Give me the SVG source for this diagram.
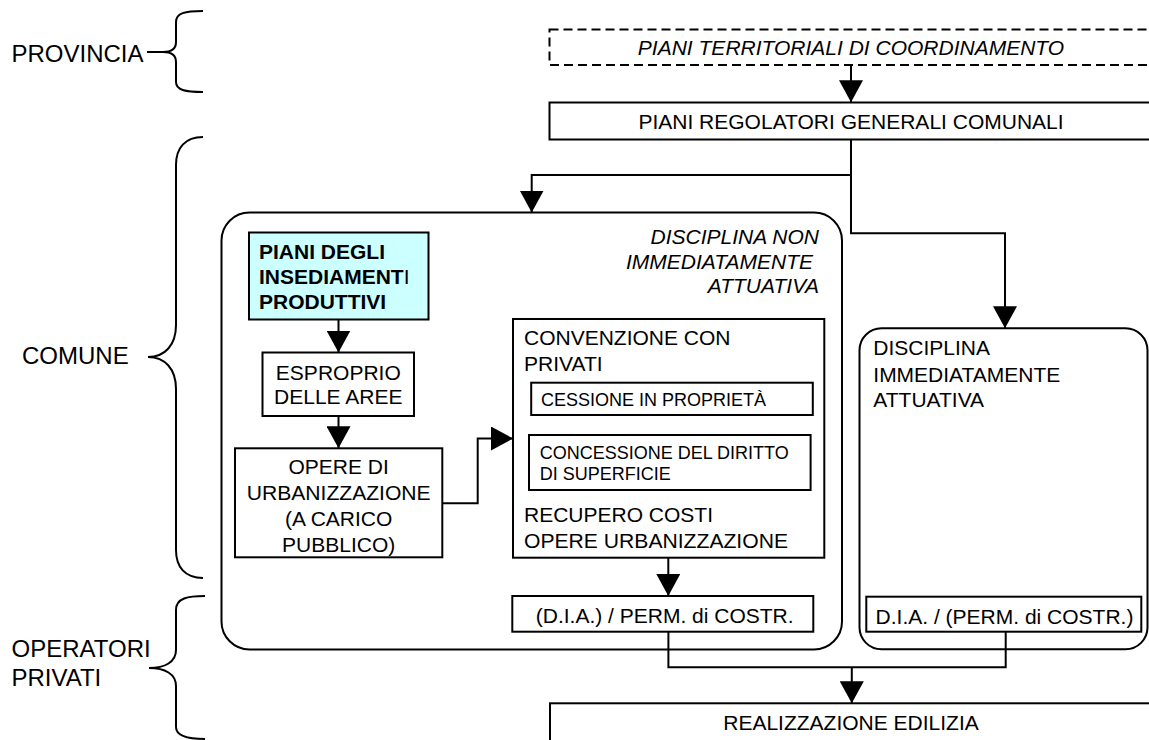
<svg xmlns="http://www.w3.org/2000/svg" width="1149" height="740" viewBox="0 0 1149 740">
<defs>
<style>
.box{fill:#fff;stroke:#000;stroke-width:2}
.dash{fill:#fff;stroke:#000;stroke-width:2;stroke-dasharray:9 5}
.ln{fill:none;stroke:#000;stroke-width:2}
.br{fill:none;stroke:#000;stroke-width:2}
text{font-family:"Liberation Sans",Arial,sans-serif;fill:#000}
.t{font-size:21px}
.s{font-size:18px}
.l{font-size:24px}
.i{font-style:italic}
.b{font-weight:bold}
.m{text-anchor:middle}
.r{text-anchor:end}
</style>
<marker id="ah" markerUnits="userSpaceOnUse" markerWidth="23" markerHeight="24" refX="22" refY="12" orient="auto">
<path d="M0,0 L22,12 L0,24 z" fill="#000"/>
</marker>
</defs>

<g id="labels">
<text class="l" x="11.5" y="61.5">PROVINCIA</text>
<text class="l" x="22" y="364">COMUNE</text>
<text class="l" x="11.5" y="656.5">OPERATORI</text>
<text class="l" x="11.5" y="686">PRIVATI</text>
<path class="br" d="M147,52 L163,52"/>
<path class="br" d="M203,11 C185,11 176,13 176,22 L176,42 C176,48 172,52 163,52 C172,52 176,56 176,62 L176,82 C176,90 185,92 203,92"/>
<path class="br" d="M203,137 C185,137 176,148 176,165 L176,325 C176,345 165,357 148,357 C165,357 176,369 176,389 L176,550 C176,567 185,578 203,578"/>
<path class="br" d="M205,596 C188,596 176,598 176,610 L176,650 C176,662 165,668 149,668 C165,668 176,674 176,686 L176,727 C176,736 188,739 205,739"/>
</g>

<g id="ptc">
<rect class="dash" x="549.5" y="29.5" width="603" height="35.5"/>
<text class="t i m" x="851" y="55">PIANI TERRITORIALI DI COORDINAMENTO</text>
</g>

<g id="prg">
<rect class="box" x="549.5" y="102.5" width="603" height="37"/>
<text class="t m" x="851" y="129">PIANI REGOLATORI GENERALI COMUNALI</text>
</g>

<g id="non-immediata">
<rect class="box" x="221.5" y="212.5" width="620.5" height="437" rx="28" ry="28"/>
<text class="t i r" x="819" y="244">DISCIPLINA NON</text>
<text class="t i r" x="813" y="268.5">IMMEDIATAMENTE</text>
<text class="t i r" x="819" y="293">ATTUATIVA</text>
</g>

<g id="pip">
<rect x="249" y="232.5" width="179.5" height="87" fill="#CCFFFF" stroke="#000" stroke-width="2"/>
<text class="t b" x="259" y="259">PIANI DEGLI</text>
<text class="t b" x="259" y="284">INSEDIAMENT<tspan font-weight="normal">I</tspan></text>
<text class="t b" x="259" y="309">PRODUTTIVI</text>
</g>

<g id="esproprio">
<rect class="box" x="262.5" y="352.5" width="151.5" height="63.5"/>
<text class="t m" x="338.3" y="380">ESPROPRIO</text>
<text class="t m" x="338.3" y="403.5">DELLE AREE</text>
</g>

<g id="opere">
<rect class="box" x="235" y="448.3" width="207.3" height="109"/>
<text class="t m" x="338.7" y="474">OPERE DI</text>
<text class="t m" x="338.7" y="500" textLength="184" lengthAdjust="spacingAndGlyphs">URBANIZZAZIONE</text>
<text class="t m" x="338.7" y="526">(A CARICO</text>
<text class="t m" x="338.7" y="551.5">PUBBLICO)</text>
</g>

<g id="convenzione">
<rect class="box" x="513" y="319" width="311.3" height="238.7"/>
<text class="t" x="524" y="345">CONVENZIONE CON</text>
<text class="t" x="524" y="370.5">PRIVATI</text>
<text class="t" x="524" y="521.5">RECUPERO COSTI</text>
<text class="t" x="524" y="547.5" textLength="264" lengthAdjust="spacingAndGlyphs">OPERE URBANIZZAZIONE</text>
</g>

<g id="cessione">
<rect class="box" x="531.2" y="382.7" width="281.6" height="32.3"/>
<text class="s" x="541" y="406">CESSIONE IN PROPRIETÀ</text>
</g>

<g id="concessione">
<rect class="box" x="529" y="435" width="281.6" height="55"/>
<text class="s" x="539.7" y="459">CONCESSIONE DEL DIRITTO</text>
<text class="s" x="539.7" y="480">DI SUPERFICIE</text>
</g>

<g id="dia-left">
<rect class="box" x="512.3" y="596" width="301" height="35.7"/>
<text class="t m" x="664.7" y="623.3">(D.I.A.) / PERM. di COSTR.</text>
</g>

<g id="immediata">
<rect class="box" x="859.5" y="328.3" width="288" height="321" rx="22" ry="22"/>
<text class="t" x="873.3" y="355">DISCIPLINA</text>
<text class="t" x="873.3" y="381.5">IMMEDIATAMENTE</text>
<text class="t" x="873.3" y="407.3">ATTUATIVA</text>
</g>

<g id="dia-right">
<rect class="box" x="866.3" y="596.7" width="275" height="35"/>
<text class="t m" x="1004.5" y="624">D.I.A. / (PERM. di COSTR.)</text>
</g>

<g id="realizzazione">
<rect class="box" x="550" y="703.3" width="603" height="50"/>
<text class="t m" x="851" y="730">REALIZZAZIONE EDILIZIA</text>
</g>

<g id="connectors">
<path class="ln" d="M851,65 L851,102.3" marker-end="url(#ah)"/>
<path class="ln" d="M851,139.5 L851,233.3 L1005,233.3 L1005,328.3" marker-end="url(#ah)"/>
<path class="ln" d="M851,175 L531.7,175 L531.7,212.5" marker-end="url(#ah)"/>
<path class="ln" d="M338.5,319.5 L338.5,352.5" marker-end="url(#ah)"/>
<path class="ln" d="M338.5,416 L338.5,448.3" marker-end="url(#ah)"/>
<path class="ln" d="M442.3,503.3 L477.7,503.3 L477.7,438.5 L513,438.5" marker-end="url(#ah)"/>
<path class="ln" d="M668.3,557.7 L668.3,596" marker-end="url(#ah)"/>
<path class="ln" d="M668.4,631.7 L668.4,667.3 L1005.7,667.3 L1005.7,631.7"/>
<path class="ln" d="M851.8,667.3 L851.8,703.3" marker-end="url(#ah)"/>
</g>
</svg>
